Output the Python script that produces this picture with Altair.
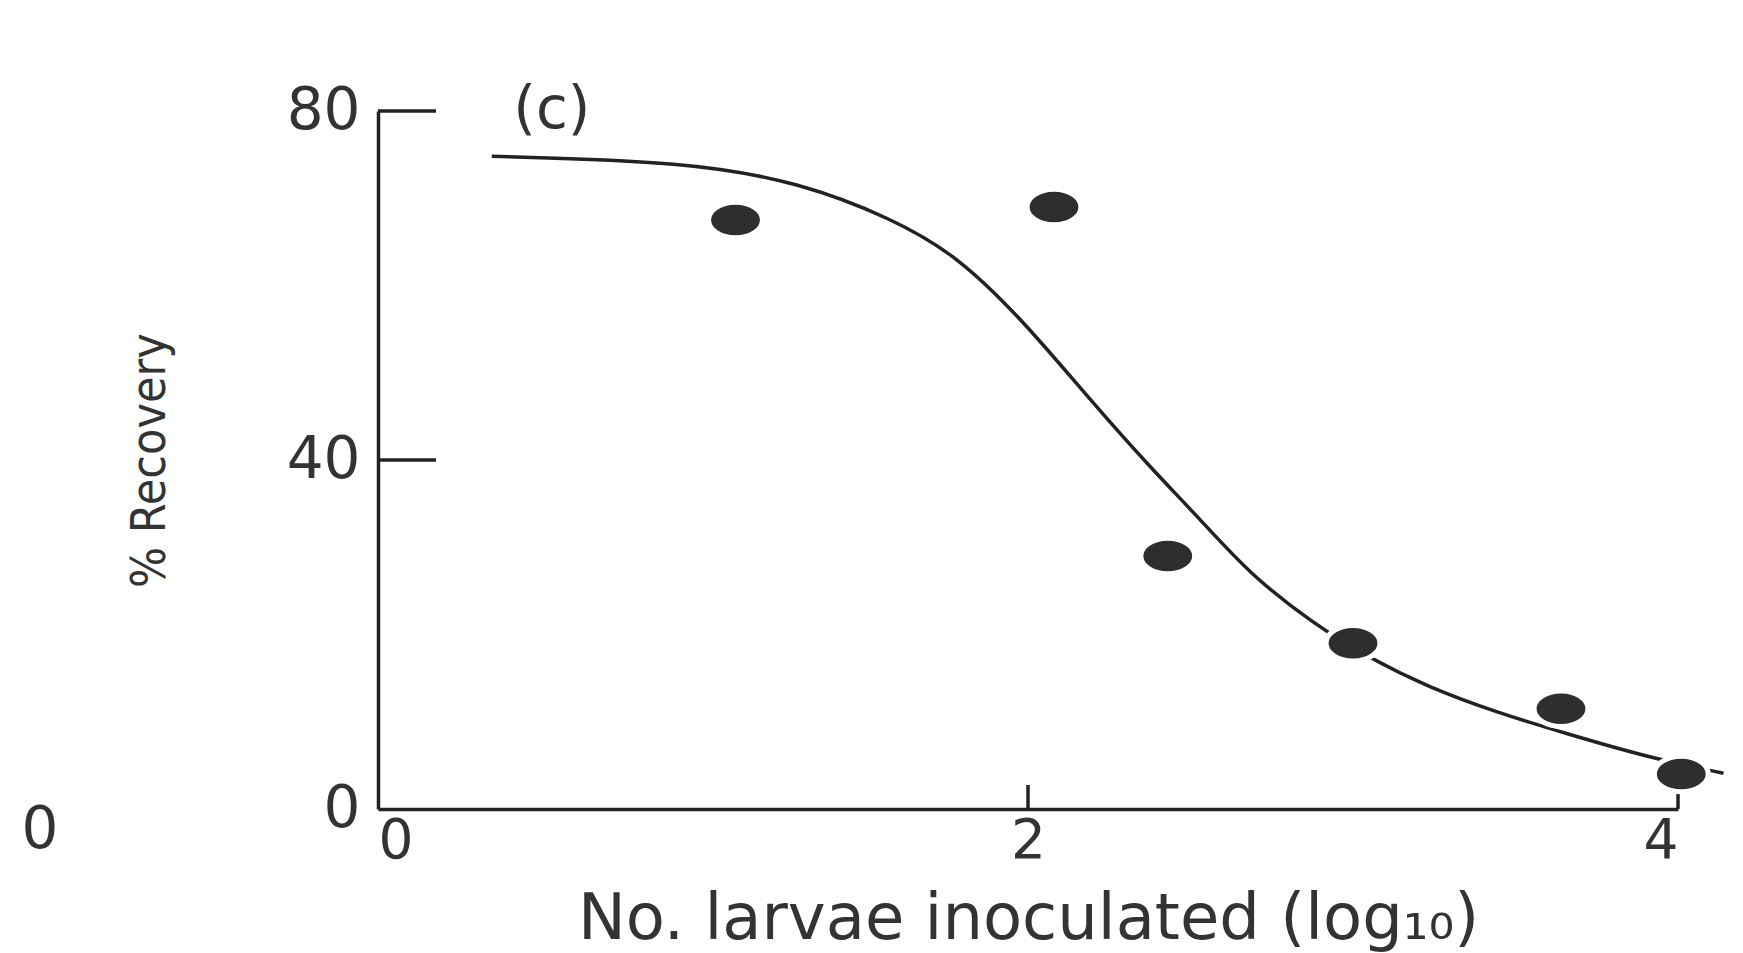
import altair as alt
import pandas as pd

# Fitted curve
curve_x = [0.35, 0.95, 1.30, 1.58, 1.78, 1.99, 2.20, 2.38, 2.53, 2.68, 2.875, 3.05, 3.23, 3.44, 3.66, 3.91, 4.14]
curve_y = [74.8, 74.2, 71.8, 67.7, 63.5, 55.8, 46.5, 39.0, 33.2, 27.0, 21.3, 17.3, 14.0, 11.1, 8.6, 5.9, 4.1]

# Observed points
pt_x = [1.10, 2.08, 2.43, 3.00, 3.64, 4.01]
pt_y = [67.5, 69.0, 29.0, 19.0, 11.5, 4.0]

# Axis ticks
x_ticks = [0, 2, 4]
y_ticks = [0, 40, 80]
x_inner_ticks = [2, 4]
y_inner_ticks = [40, 80]

# Text annotations
ann_text = ["(c)", "0"]
ann_x = [0.535, -1.04]
ann_y = [80, -2.5]

W, H = 1300, 698
INK = "#222222"
TXT = "#333333"
FONT = "DejaVu Sans"

curve_df = pd.DataFrame({"x": curve_x, "y": curve_y})
pt_df = pd.DataFrame({"x": pt_x, "y": pt_y})
xt_df = pd.DataFrame({"t": x_inner_ticks})
yt_df = pd.DataFrame({"t": y_inner_ticks})
ann_df = pd.DataFrame({"label": ann_text, "x": ann_x, "y": ann_y})

xscale = alt.Scale(domain=[0, 4], nice=False, zero=False)
yscale = alt.Scale(domain=[0, 80], nice=False, zero=False)

xaxis = alt.Axis(
    values=x_ticks, format="d", grid=False, ticks=False,
    domainColor=INK, domainWidth=3.5,
    labelFont=FONT, labelFontSize=55, labelColor=TXT, labelPadding=5,
    title="No. larvae inoculated (log₁₀)", titleFont=FONT, titleFontSize=64,
    titleFontWeight="normal", titleColor=TXT,
    titleY=110, titleBaseline="middle",
)
yaxis = alt.Axis(
    values=y_ticks, format="d", grid=False, ticks=False,
    domainColor=INK, domainWidth=3.5,
    labelFont=FONT, labelFontSize=58, labelColor=TXT, labelPadding=18,
    title="% Recovery",
    titleFont="Liberation Sans Narrow, DejaVu Sans Condensed, Liberation Sans",
    titleFontSize=48, titleFontWeight="normal", titleColor=TXT,
    titleX=-228, titleY=H / 2, titleAlign="center", titleBaseline="middle", titleAngle=270,
)

line = alt.Chart(curve_df).mark_line(
    color=INK, strokeWidth=3.5, interpolate="basis", clip=False
).encode(
    x=alt.X("x:Q", scale=xscale, axis=xaxis),
    y=alt.Y("y:Q", scale=yscale, axis=yaxis),
)

ellipse = "M -1 0 A 1 0.66 0 1 1 1 0 A 1 0.66 0 1 1 -1 0 Z"
points = alt.Chart(pt_df).mark_point(
    shape=ellipse, size=2900, filled=True, fill="#2e2e2e", fillOpacity=1,
    stroke="white", strokeWidth=5, clip=False
).encode(x=alt.X("x:Q", scale=xscale), y=alt.Y("y:Q", scale=yscale))

yt = alt.Chart(yt_df).mark_rule(color=INK, strokeWidth=3.5).encode(
    y=alt.Y("t:Q", scale=yscale), x=alt.value(0), x2=alt.value(58)
)
xt = alt.Chart(xt_df).mark_rule(color=INK, strokeWidth=3.5).encode(
    x=alt.X("t:Q", scale=xscale), y=alt.value(H), y2=alt.value(H - 24)
)

ann = alt.Chart(ann_df).mark_text(
    font=FONT, fontSize=58, color=TXT, align="center", baseline="middle"
).encode(x=alt.X("x:Q", scale=xscale), y=alt.Y("y:Q", scale=yscale), text="label:N")

chart = alt.layer(line, yt, xt, points, ann).properties(
    width=W, height=H,
    autosize=alt.AutoSizeParams(type="none"),
    padding={"left": 378, "top": 111, "right": 65, "bottom": 144},
    background="white",
).configure_view(stroke=None)

chart.save("out.html", embed_options={"renderer": "svg", "actions": False})
